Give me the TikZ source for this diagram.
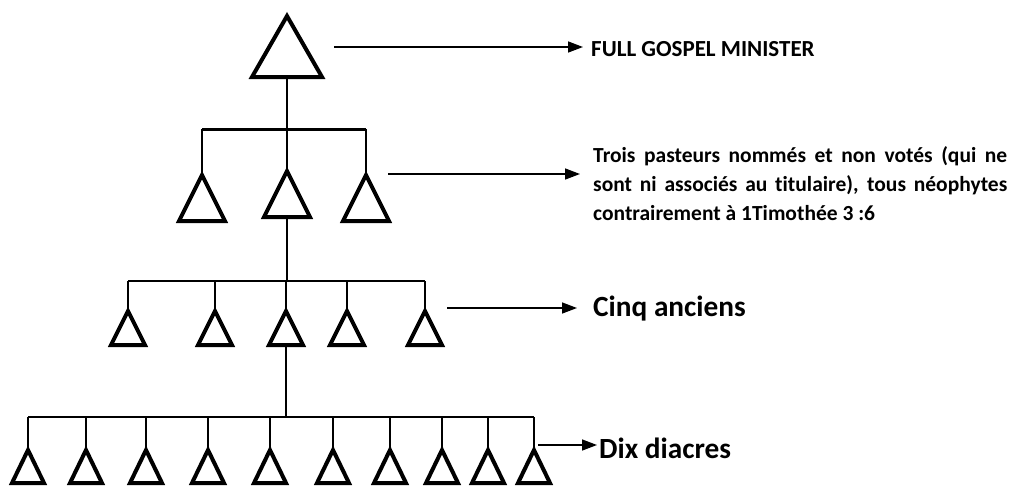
\documentclass[tikz,border=0pt]{standalone}
\usepackage{fontspec}
\setmainfont{Carlito}[Ligatures=NoCommon]
\usetikzlibrary{arrows.meta}
\begin{document}
\begin{tikzpicture}[x=1pt,y=-1pt,
  tristroke/.style={line width=4pt,line join=miter},
  conn/.style={line width=2pt},
  bar/.style={line width=2pt},
  lab/.style={->,>={Triangle[length=15pt,width=11pt]},line width=1.5pt},
  small/.style={font=\bfseries\fontsize{21.5}{29}\selectfont,anchor=west,inner sep=0pt},
  big/.style={font=\bfseries\fontsize{29.3}{32}\selectfont,anchor=west,inner sep=0pt},
  pics/tri/.style n args={2}{code={
    \coordinate (-apex) at (0,0);
    \coordinate (-base) at (0,#2);
    \draw[tristroke] (-#1,#2) -- (0,0) -- (#1,#2) -- cycle;
  }}]
\useasboundingbox (0,0) rectangle (1012,488);
% top
\pic (T) at (287,16) {tri={35}{61}};
% level 2
\pic (Ba) at (202,175) {tri={23}{46}};
\pic (Bb) at (287,171) {tri={23}{46}};
\pic (Bc) at (366,175) {tri={23}{46}};
% level 3
\foreach \n/\x in {a/128,b/215,c/286,d/347,e/425}
  \pic (C\n) at (\x,311) {tri={17}{34}};
% level 4
\foreach \n/\x in {a/28,b/86,c/146,d/208,e/270,f/333,g/390,h/442,i/488,j/534}
  \pic (D\n) at (\x,450) {tri={16}{33}};
% bars
\coordinate (b2) at (287,129);
\coordinate (b3) at (287,281);
\coordinate (b4) at (286,417);
\draw[line width=3pt] (Ba-apex |- b2) -- (Bc-apex |- b2);
\draw[conn] (T-base) -- (b2);
\foreach \n in {a,b,c} \draw[conn] (B\n-apex |- b2) -- (B\n-apex);
\draw[bar] (Ca-apex |- b3) -- (Ce-apex |- b3);
\draw[conn] (Bb-base) -- (Bb-base |- b3);
\foreach \n in {a,b,c,d,e} \draw[conn] (C\n-apex |- b3) -- (C\n-apex);
\draw[bar] (Da-apex |- b4) -- (Dj-apex |- b4);
\draw[conn] (Cc-base) -- (Cc-base |- b4);
\foreach \n in {a,b,c,d,e,f,g,h,i,j} \draw[conn] (D\n-apex |- b4) -- (D\n-apex);
% labels
\node[font=\bfseries\fontsize{23}{29}\selectfont,anchor=west,inner sep=0pt] (L1) at (591,49) {FULL GOSPEL MINISTER};
\node[small,align=left] (L2) at (593,184) {\makebox[414pt][s]{Trois pasteurs nommés et non votés (qui ne}\\
\makebox[414pt][s]{sont ni associés au titulaire), tous néophytes}\\
contrairement à 1Timothée 3 :6};
\node[big] (L3) at (593,309) {Cinq anciens};
\node[big] (L4) at (599,448) {Dix diacres};
\coordinate (s1) at (334,47);
\coordinate (s2) at (388,174);
\coordinate (s3) at (447,308);
\coordinate (s4) at (538,445);
\draw[lab] (s1) -- (583,47);
\draw[lab] (s2) -- (580,174);
\draw[lab] (s3) -- (577,308);
\draw[lab] (s4) -- (597,445);
\end{tikzpicture}
\end{document}
